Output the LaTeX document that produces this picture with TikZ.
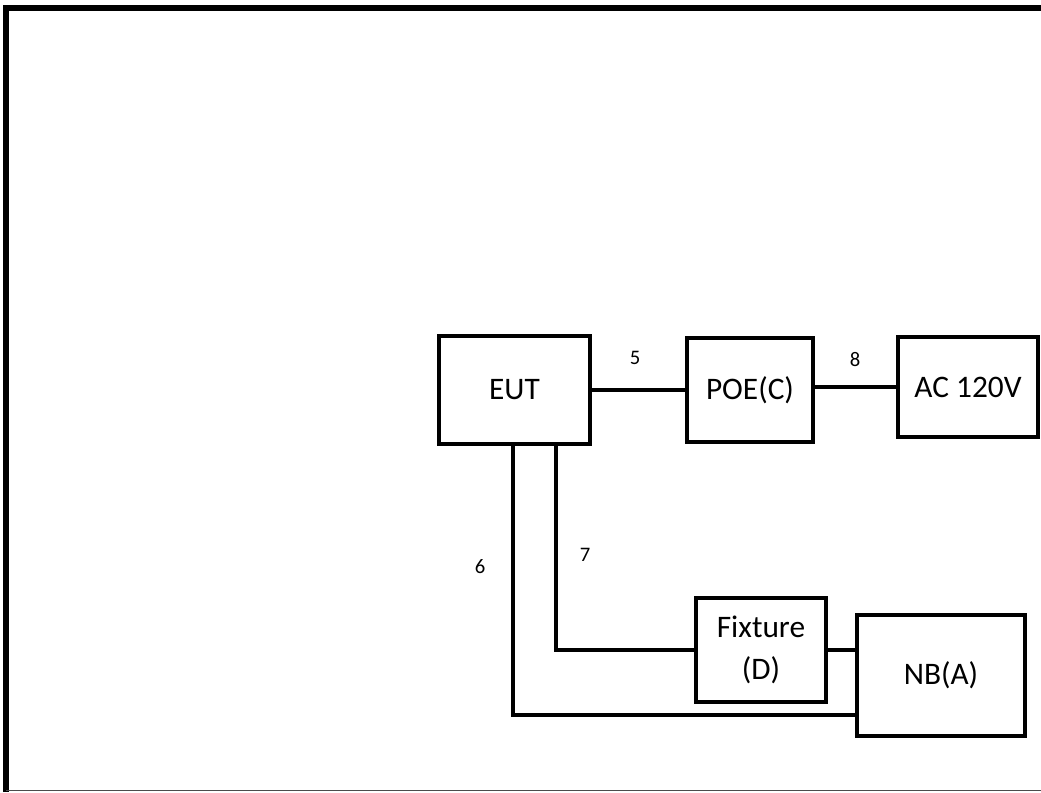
\documentclass[tikz,border=0pt]{standalone}
\usepackage{fontspec}
\setmainfont{Carlito}
\usetikzlibrary{positioning}
\tikzset{
  unit/.style={draw=black, line width=3pt, fill=white, align=center, font=\fontsize{23.5}{31}\selectfont, inner sep=0pt},
  wire/.style={draw=black, line width=2.8pt},
  wire tag/.style={font=\fontsize{15.5}{18}\selectfont, inner sep=0pt},
  frame/.style={draw=black, line width=4.5pt},
}
\begin{document}
\begin{tikzpicture}[x=0.75pt, y=-0.75pt]
  \useasboundingbox (0,0) rectangle (1041,792);
  % outer frame
  \draw[frame] (6,792) -- (6,8) -- (1041,8);
  \draw[black!70, line width=1pt] (6,790.5) -- (1041,790.5);
  % units
  \node[unit, minimum width=113pt, minimum height=81pt] (eut) at (514.5,390) {EUT};
  \node[unit, minimum width=94.5pt, minimum height=78pt] (poe) at (750,390) {POE(C)};
  \node[unit, minimum width=105pt, minimum height=75pt] (ac) at (968,387) {AC 120V};
  \node[unit, minimum width=97.5pt, minimum height=78pt] (fix) at (761,650) {Fixture\\(D)};
  \node[unit, minimum width=126pt, minimum height=90.75pt] (nb) at (941,675.5) {NB(A)};
  % cables
  \draw[wire] (eut.east) -- (poe.west);
  \draw[wire] (poe.east |- ac.west) -- (ac.west);
  \draw[wire] ([xshift=31pt]eut.south) |- (fix.west);
  \draw[wire] ([xshift=-1pt]eut.south) |- ([yshift=-29.6pt]nb.west);
  \draw[wire] (fix.east) -- (fix.east -| nb.west);
  % cable numbers
  \node[wire tag] (n5) at (635,358) {5};
  \node[wire tag] (n8) at (855,360) {8};
  \node[wire tag] (n6) at (480,567) {6};
  \node[wire tag] (n7) at (585,555) {7};
\end{tikzpicture}
\end{document}
